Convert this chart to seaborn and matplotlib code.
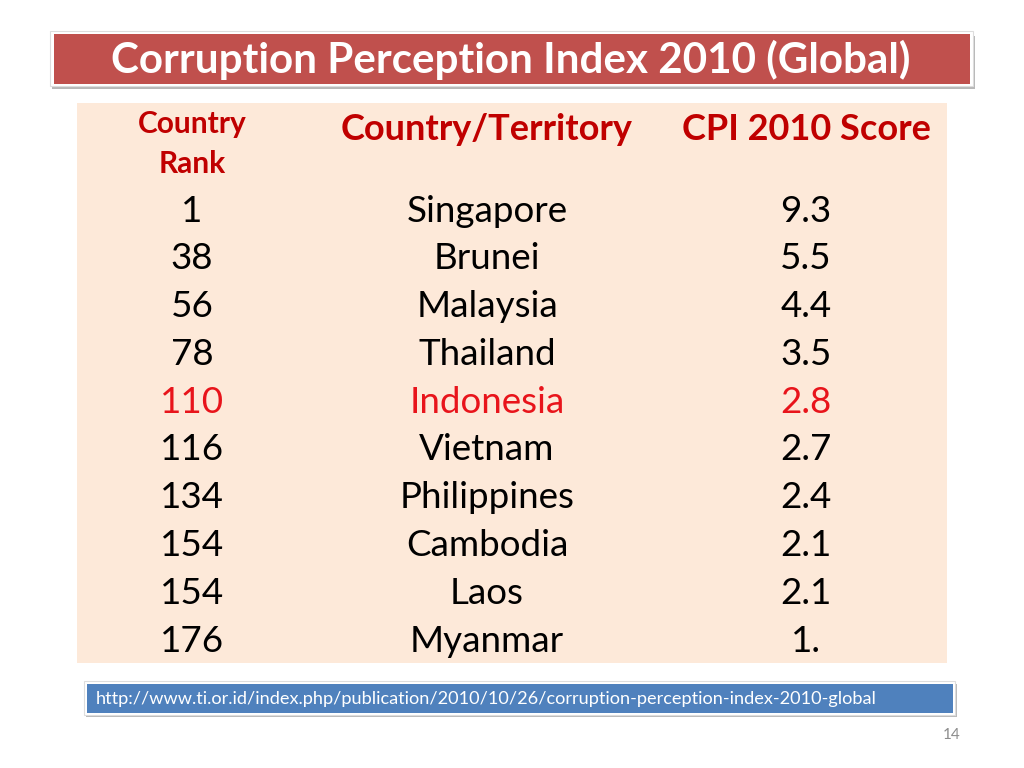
import matplotlib
matplotlib.use("Agg")
import matplotlib.pyplot as plt
import seaborn as sns
from matplotlib.patches import Rectangle

# table contents
ranks = [1, 38, 56, 78, 110, 116, 134, 154, 154, 176]
countries = ["Singapore", "Brunei", "Malaysia", "Thailand", "Indonesia",
             "Vietnam", "Philippines", "Cambodia", "Laos", "Myanmar"]
score_labels = ["9.3", "5.5", "4.4", "3.5", "2.8", "2.7", "2.4", "2.1", "2.1", "1."]
headers = ["Country\nRank", "Country/Territory", "CPI 2010 Score"]
highlight = "Indonesia"

title = "Corruption Perception Index 2010 (Global)"
source = "http://www.ti.or.id/index.php/publication/2010/10/26/corruption-perception-index-2010-global"
page_no = "14"

TITLE_RED = "#C0504D"
HEAD_RED = "#C00000"
HI_RED = "#E8141B"
PEACH = "#FDE9D9"
BLUE = "#4F81BD"

sns.set_theme(style="white")
plt.rcParams["font.family"] = ["Lato", "DejaVu Sans"]

W, H = 1024, 768
fig = plt.figure(figsize=(W / 100, H / 100), dpi=100)
fig.patch.set_facecolor("white")

# page-level axes in pixel coordinates for the banners
page = fig.add_axes([0, 0, 1, 1])
page.set_xlim(0, W)
page.set_ylim(H, 0)
page.axis("off")

# title banner with shadow and white frame
page.add_patch(Rectangle((52, 36), 923, 53, facecolor="#B8B8B8", edgecolor="none", zorder=1))
page.add_patch(Rectangle((50, 31), 923, 55, facecolor="white", edgecolor="#DDDDDD", lw=0.8, zorder=2))
page.add_patch(Rectangle((54, 34), 916, 50, facecolor=TITLE_RED, edgecolor="none", zorder=3))
page.text(511, 60, title, color="white", fontsize=30.3, fontweight="bold",
          ha="center", va="center", zorder=4)

# source banner
page.add_patch(Rectangle((86, 684), 871, 33, facecolor="#BBBBBB", edgecolor="none", zorder=1))
page.add_patch(Rectangle((84, 681), 871, 34, facecolor="white", edgecolor="#DDDDDD", lw=0.8, zorder=2))
page.add_patch(Rectangle((87, 684), 866, 29, facecolor=BLUE, edgecolor="none", zorder=3))
page.text(96, 699, source, color="white", fontsize=13.1, ha="left", va="center", zorder=4)

page.text(961, 735, page_no, color="#8C8C8C", fontsize=11, ha="right", va="center")

# table axes: rows on y, columns on x
ax = fig.add_axes([77 / W, 1 - 663 / H, 870 / W, 560 / H])
ax.set_facecolor(PEACH)
row_px = 47.8
ax.set_xlim(0, 870)
ax.set_ylim((663 - 211) / row_px, (103 - 211) / row_px)
col_x = [115, 410, 729]

ax.text(col_x[0], (144 - 211) / row_px, headers[0], color=HEAD_RED, fontsize=21.5,
        fontweight="bold", ha="center", va="center", linespacing=1.5)
for cx, h in zip(col_x[1:], headers[1:]):
    ax.text(cx, (129 - 211) / row_px, h, color=HEAD_RED, fontsize=26,
            fontweight="bold", ha="center", va="center")

for i, (r, c, s) in enumerate(zip(ranks, countries, score_labels)):
    color = HI_RED if c == highlight else "black"
    for cx, val in zip(col_x, (str(r), c, s)):
        ax.text(cx, i, val, color=color, fontsize=26.5, ha="center", va="center")

ax.set_xticks([])
ax.set_yticks([])
sns.despine(ax=ax, left=True, bottom=True)

fig.savefig("out.png", dpi=100, facecolor="white")
